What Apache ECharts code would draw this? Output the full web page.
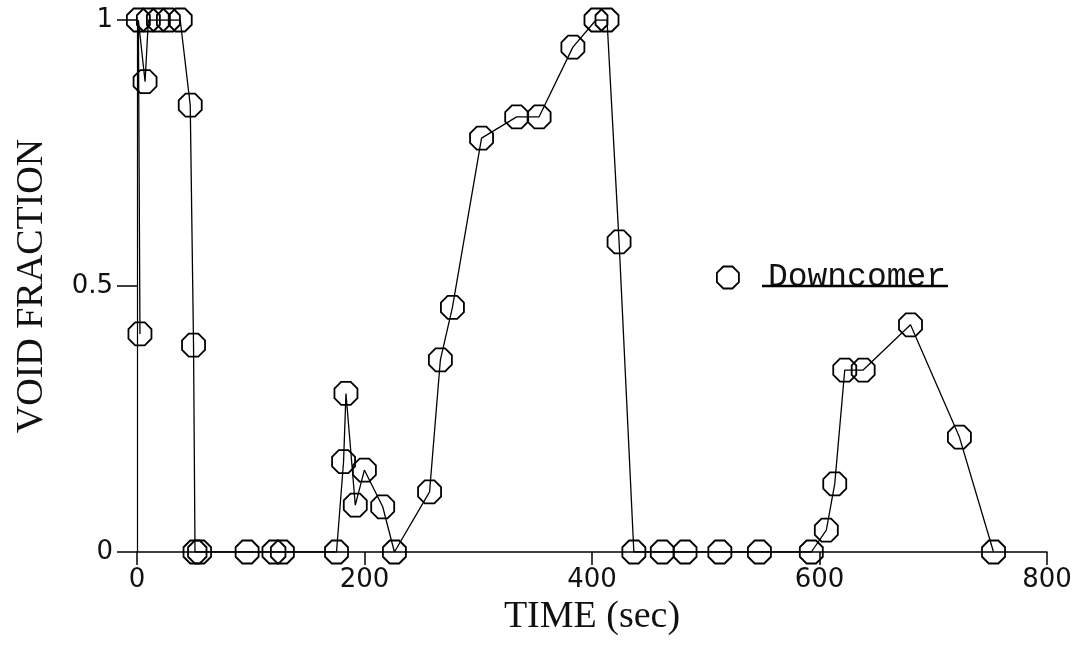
<!DOCTYPE html>
<html>
<head>
<meta charset="utf-8">
<script src="https://cdn.jsdelivr.net/npm/echarts@6/dist/echarts.min.js"></script>
<style>html,body{margin:0;padding:0;background:#fff}#chart{width:1090px;height:645px}</style>
</head>
<body>
<div id="chart"></div>
<script>
// Data
const seriesName = 'Downcomer';
const timeSec = [2.6, 1.2, 7.1, 10, 18.8, 27.6, 38, 46.8, 49.7, 51, 55, 96.8, 120.4, 127.8, 175.4, 181.6, 183.7, 191.9, 199.9, 216, 226.3, 257.2, 266.7, 277.3, 302.9, 333.8, 353.5, 383.2, 403.5, 413.2, 423.8, 436.8, 461.8, 481.8, 512.4, 547.2, 592.8, 606, 613.4, 622.2, 638.4, 680, 723, 753];
const voidFraction = [0.41, 1, 0.884, 1, 1, 1, 1, 0.84, 0.389, 0, 0, 0, 0, 0, 0, 0.17, 0.298, 0.088, 0.154, 0.085, 0, 0.113, 0.361, 0.46, 0.778, 0.818, 0.818, 0.949, 1, 1, 0.583, 0, 0, 0, 0, 0, 0, 0.041, 0.128, 0.342, 0.342, 0.427, 0.216, 0];
const xTicks = {min: 0, max: 800, step: 200};
const yTicks = {min: 0, max: 1, step: 0.5};

const points = timeSec.map((t, i) => [t, voidFraction[i]]);
const octagon = 'path://M29.3,0L70.7,0L100,29.3L100,70.7L70.7,100L29.3,100L0,70.7L0,29.3Z';

const chart = echarts.init(document.getElementById('chart'), null, {renderer: 'canvas'});
chart.setOption({
  animation: false,
  backgroundColor: '#ffffff',
  grid: {left: 137, right: 43, top: 20, bottom: 93, containLabel: false},
  legend: {
    left: 711, top: 256,
    itemWidth: 22, itemHeight: 22,
    data: [{name: seriesName, icon: octagon, itemStyle: {color: 'rgba(0,0,0,0)', borderColor: '#000', borderWidth: 1.8}}],
    textStyle: {fontFamily: 'Liberation Mono', fontSize: 33, color: '#111', padding: [0, 0, 0, 24]}
  },
  xAxis: {
    type: 'value', min: xTicks.min, max: xTicks.max, interval: xTicks.step,
    name: 'TIME (sec)', nameLocation: 'middle', nameGap: 46,
    nameTextStyle: {fontFamily: 'Liberation Serif', fontSize: 38, color: '#111'},
    axisLine: {show: true, onZero: false, lineStyle: {color: '#000', width: 1.5}},
    axisTick: {show: true, length: 13, lineStyle: {color: '#000', width: 1.5}},
    axisLabel: {fontFamily: 'DejaVu Sans', fontSize: 26, color: '#111', margin: 15},
    splitLine: {show: false}
  },
  yAxis: {
    type: 'value', min: yTicks.min, max: yTicks.max, interval: yTicks.step,
    name: 'VOID FRACTION', nameLocation: 'middle', nameGap: 86,
    nameTextStyle: {fontFamily: 'Liberation Serif', fontSize: 38, color: '#111'},
    axisLine: {show: true, lineStyle: {color: '#000', width: 1.2}},
    axisTick: {show: true, length: 20, lineStyle: {color: '#000', width: 1.5}},
    axisLabel: {fontFamily: 'DejaVu Sans', fontSize: 26, color: '#111', margin: 24},
    splitLine: {show: false}
  },
  series: [{
    name: seriesName,
    type: 'line',
    data: points,
    symbol: octagon,
    symbolSize: 23,
    showAllSymbol: true,
    lineStyle: {color: '#000', width: 1.3},
    itemStyle: {color: 'rgba(0,0,0,0)', borderColor: '#000', borderWidth: 1.8}
  }],
  graphic: [{
    type: 'line', z: 100,
    shape: {x1: 762, y1: 286, x2: 948, y2: 286},
    style: {stroke: '#000', lineWidth: 2.5}
  }]
});
</script>
</body>
</html>
